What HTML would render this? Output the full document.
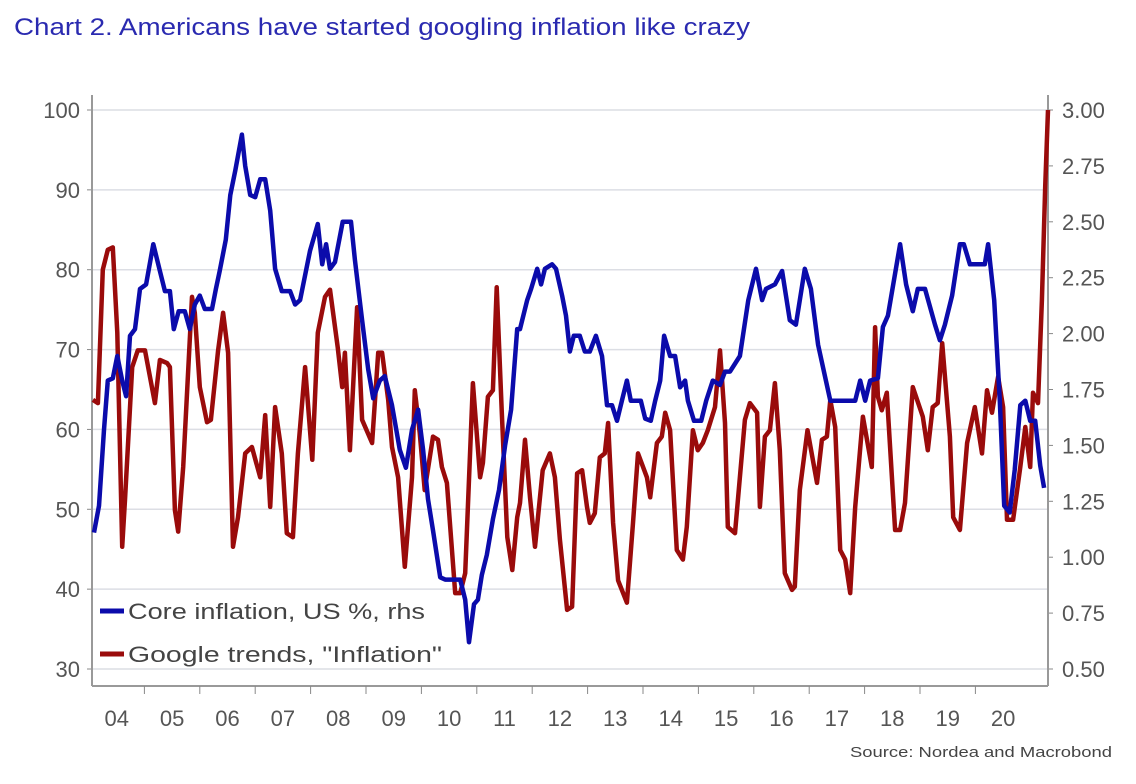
<!DOCTYPE html>
<html><head><meta charset="utf-8">
<style>
html,body{margin:0;padding:0;background:#fff;}
body{width:1136px;height:779px;overflow:hidden;font-family:"Liberation Sans",sans-serif;}
</style></head>
<body>
<svg id="chart" width="1136" height="779" xmlns="http://www.w3.org/2000/svg">
<text x="14" y="35" font-family="Liberation Sans, sans-serif" font-size="24" fill="#2a2ab0" textLength="736" lengthAdjust="spacingAndGlyphs">Chart 2. Americans have started googling inflation like crazy</text>
<g id="grid"></g><g id="axes"></g><g id="lines"></g>
<g>
<line x1="100" y1="611" x2="124" y2="611" stroke="#0b0bab" stroke-width="5"/>
<text x="128" y="619" font-size="22" fill="#444" textLength="297" lengthAdjust="spacingAndGlyphs">Core inflation, US %, rhs</text>
<line x1="100" y1="654" x2="124" y2="654" stroke="#9a0b0b" stroke-width="5"/>
<text x="128" y="662" font-size="22" fill="#444" textLength="314" lengthAdjust="spacingAndGlyphs">Google trends, "Inflation"</text>
</g>
<text x="850" y="757" font-size="15" fill="#444" textLength="262" lengthAdjust="spacingAndGlyphs">Source: Nordea and Macrobond</text>
</svg>
<script>
const leftTicks=[30,40,50,60,70,80,90,100];
const rightTicks=["0.50","0.75","1.00","1.25","1.50","1.75","2.00","2.25","2.50","2.75","3.00"];
const yearLabels=["04","05","06","07","08","09","10","11","12","13","14","15","16","17","18","19","20"];
const coreDates=[2004.09,2004.18,2004.27,2004.34,2004.43,2004.51,2004.60,2004.67,2004.74,2004.83,2004.92,2005.03,2005.16,2005.28,2005.37,2005.46,2005.53,2005.62,2005.73,2005.82,2005.91,2006.00,2006.09,2006.22,2006.29,2006.36,2006.47,2006.55,2006.64,2006.76,2006.82,2006.91,2007.00,2007.09,2007.18,2007.27,2007.36,2007.48,2007.63,2007.72,2007.81,2007.99,2008.13,2008.21,2008.28,2008.35,2008.44,2008.58,2008.73,2008.80,2008.93,2009.04,2009.13,2009.25,2009.34,2009.47,2009.61,2009.72,2009.83,2009.94,2010.03,2010.12,2010.21,2010.34,2010.43,2010.70,2010.79,2010.86,2010.95,2011.02,2011.09,2011.18,2011.29,2011.40,2011.51,2011.62,2011.73,2011.78,2011.91,2011.98,2012.09,2012.16,2012.23,2012.36,2012.43,2012.54,2012.61,2012.68,2012.75,2012.86,2012.95,2013.04,2013.15,2013.26,2013.35,2013.44,2013.53,2013.62,2013.71,2013.78,2013.87,2013.96,2014.04,2014.14,2014.22,2014.31,2014.38,2014.49,2014.58,2014.67,2014.76,2014.81,2014.92,2015.05,2015.14,2015.26,2015.39,2015.48,2015.57,2015.75,2015.90,2016.04,2016.15,2016.22,2016.38,2016.51,2016.65,2016.76,2016.92,2017.03,2017.16,2017.38,2017.50,2017.83,2017.92,2018.01,2018.10,2018.24,2018.33,2018.42,2018.64,2018.75,2018.87,2018.96,2019.09,2019.27,2019.36,2019.45,2019.58,2019.72,2019.79,2019.90,2020.17,2020.23,2020.34,2020.44,2020.52,2020.62,2020.71,2020.81,2020.90,2020.99,2021.08,2021.17,2021.24];
const coreValues=[1.11,1.23,1.57,1.79,1.80,1.90,1.79,1.72,1.99,2.02,2.20,2.22,2.40,2.28,2.19,2.19,2.02,2.10,2.10,2.02,2.13,2.17,2.11,2.11,2.20,2.28,2.42,2.62,2.73,2.89,2.75,2.62,2.61,2.69,2.69,2.55,2.29,2.19,2.19,2.13,2.15,2.37,2.49,2.31,2.40,2.29,2.32,2.50,2.50,2.33,2.06,1.84,1.71,1.79,1.81,1.68,1.48,1.40,1.57,1.66,1.48,1.26,1.12,0.91,0.90,0.90,0.81,0.62,0.79,0.81,0.92,1.01,1.17,1.30,1.50,1.66,2.02,2.02,2.15,2.20,2.29,2.22,2.29,2.31,2.29,2.17,2.08,1.92,1.99,1.99,1.92,1.92,1.99,1.90,1.68,1.68,1.61,1.70,1.79,1.70,1.70,1.70,1.62,1.61,1.70,1.79,1.99,1.90,1.90,1.76,1.79,1.70,1.61,1.61,1.70,1.79,1.77,1.83,1.83,1.90,2.15,2.29,2.15,2.20,2.22,2.28,2.06,2.04,2.29,2.20,1.95,1.70,1.70,1.70,1.79,1.70,1.79,1.80,2.03,2.08,2.40,2.22,2.10,2.20,2.20,2.04,1.97,2.04,2.17,2.40,2.40,2.31,2.31,2.40,2.15,1.70,1.23,1.20,1.39,1.68,1.70,1.61,1.61,1.41,1.31];
const trendDates=[2004.07,2004.16,2004.25,2004.34,2004.43,2004.51,2004.60,2004.65,2004.78,2004.88,2005.01,2005.19,2005.28,2005.41,2005.46,2005.55,2005.61,2005.70,2005.86,2005.91,2006.00,2006.13,2006.20,2006.33,2006.42,2006.51,2006.60,2006.69,2006.82,2006.94,2007.09,2007.18,2007.27,2007.36,2007.48,2007.57,2007.68,2007.77,2007.90,2008.03,2008.13,2008.26,2008.35,2008.49,2008.57,2008.62,2008.71,2008.84,2008.93,2009.11,2009.22,2009.29,2009.40,2009.47,2009.58,2009.70,2009.83,2009.88,2009.97,2010.06,2010.21,2010.30,2010.37,2010.46,2010.61,2010.70,2010.79,2010.93,2011.06,2011.11,2011.20,2011.29,2011.36,2011.45,2011.55,2011.64,2011.73,2011.78,2011.87,2011.96,2012.05,2012.19,2012.32,2012.41,2012.50,2012.63,2012.72,2012.81,2012.90,2012.99,2013.04,2013.13,2013.22,2013.31,2013.37,2013.46,2013.55,2013.71,2013.82,2013.91,2014.07,2014.13,2014.25,2014.34,2014.40,2014.49,2014.61,2014.72,2014.79,2014.90,2014.99,2015.08,2015.17,2015.30,2015.39,2015.48,2015.53,2015.66,2015.84,2015.93,2016.06,2016.11,2016.20,2016.29,2016.38,2016.47,2016.56,2016.69,2016.74,2016.83,2016.97,2017.14,2017.23,2017.32,2017.38,2017.47,2017.56,2017.65,2017.74,2017.83,2017.97,2018.13,2018.19,2018.24,2018.31,2018.40,2018.55,2018.64,2018.73,2018.87,2019.05,2019.14,2019.23,2019.32,2019.40,2019.54,2019.60,2019.72,2019.85,2019.99,2020.12,2020.21,2020.30,2020.41,2020.50,2020.57,2020.68,2020.81,2020.90,2020.99,2021.04,2021.13,2021.20,2021.26,2021.31];
const trendValues=[63.7,63.3,80.0,82.5,82.8,72.1,45.3,51.2,67.8,69.9,69.9,63.3,68.7,68.3,67.8,49.9,47.2,55.3,76.6,74.6,65.3,60.9,61.2,69.9,74.6,69.6,45.3,49.0,57.0,57.8,54.0,61.8,50.3,62.8,57.0,47.0,46.5,57.0,67.8,56.2,72.1,76.6,77.5,70.3,65.3,69.6,57.4,75.3,61.2,58.3,69.6,69.6,63.7,57.8,54.0,42.8,54.0,64.9,59.6,52.4,59.1,58.7,55.3,53.3,39.5,39.5,42.0,65.8,54.0,55.8,64.1,64.9,77.8,62.4,46.5,42.4,49.0,50.8,58.7,51.5,45.3,54.9,57.0,54.0,46.2,37.4,37.8,54.5,54.9,50.3,48.3,49.5,56.5,57.0,60.8,48.3,41.1,38.3,48.3,57.0,54.0,51.5,58.3,59.1,62.1,59.9,44.9,43.7,47.8,59.9,57.4,58.3,59.9,62.8,69.9,60.8,47.8,47.0,61.2,63.3,62.1,50.3,59.1,59.9,65.8,57.4,42.0,39.9,40.3,52.4,59.9,53.3,58.7,59.1,63.7,60.3,44.9,43.7,39.5,50.3,61.6,55.3,72.8,64.1,62.4,64.6,47.4,47.4,50.8,65.3,61.6,57.4,62.8,63.3,70.8,59.1,49.0,47.4,58.3,62.8,57.0,64.9,62.1,66.6,62.8,48.7,48.7,55.3,60.3,55.3,64.6,63.3,76.2,90.4,100];

const NS="http://www.w3.org/2000/svg";
const X0=92,X1=1048,YT=110,YB=669;
function xScale(t){return 89+(t-2004)*55.4;}
function yLeft(v){return YB-(v-30)/70*(YB-YT);}
function yRight(r){return YB-(r-0.5)/2.5*(YB-YT);}
function mk(tag,attrs,parent){const e=document.createElementNS(NS,tag);for(const k in attrs)e.setAttribute(k,attrs[k]);parent.appendChild(e);return e;}
const grid=document.getElementById('grid'),axes=document.getElementById('axes'),lines=document.getElementById('lines');
leftTicks.forEach(v=>{
  const y=yLeft(v);
  const g=mk('line',{x1:X0,x2:X1,y1:y,y2:y,stroke:'#dcdee4','stroke-width':1.5},grid);
  
  
  mk('line',{x1:X0-5,x2:X0,y1:y,y2:y,stroke:'#888','stroke-width':1},axes);
  const t=mk('text',{x:80,y:y+8,'text-anchor':'end','font-size':22,fill:'#555'},axes);
  t.textContent=v;
  
  
});
rightTicks.forEach(s=>{
  const y=yRight(parseFloat(s));
  mk('line',{x1:X1,x2:X1+5,y1:y,y2:y,stroke:'#888','stroke-width':1},axes);
  const t=mk('text',{x:1062,y:y+8,'font-size':22,fill:'#555'},axes);
  t.textContent=s;
  
  
});
mk('line',{x1:X0,x2:X0,y1:95,y2:686,stroke:'#999','stroke-width':2},axes);
mk('line',{x1:X1,x2:X1,y1:95,y2:686,stroke:'#999','stroke-width':2},axes);
mk('line',{x1:X0,x2:X1,y1:686,y2:686,stroke:'#999','stroke-width':2},axes);
yearLabels.forEach((s,i)=>{
  const yr=2004+i;
  const xs=xScale(yr);
  if(i>0) mk('line',{x1:xs,x2:xs,y1:686,y2:694,stroke:'#888','stroke-width':1},axes);
  const t=mk('text',{x:xScale(yr+0.5),y:726,'text-anchor':'middle','font-size':22,fill:'#555'},axes);
  t.textContent=s;
  
  
});
function path(dates,vals,ys){return dates.map((d,i)=>(i?'L':'M')+xScale(d).toFixed(1)+','+ys(vals[i]).toFixed(1)).join('');}
const red=mk('path',{d:path(trendDates,trendValues,yLeft),fill:'none',stroke:'#9a0b0b','stroke-width':4.5,'stroke-linejoin':'round'},lines);


const blue=mk('path',{d:path(coreDates,coreValues,yRight),fill:'none',stroke:'#0b0bab','stroke-width':4.5,'stroke-linejoin':'round'},lines);


</script>
</body></html>
